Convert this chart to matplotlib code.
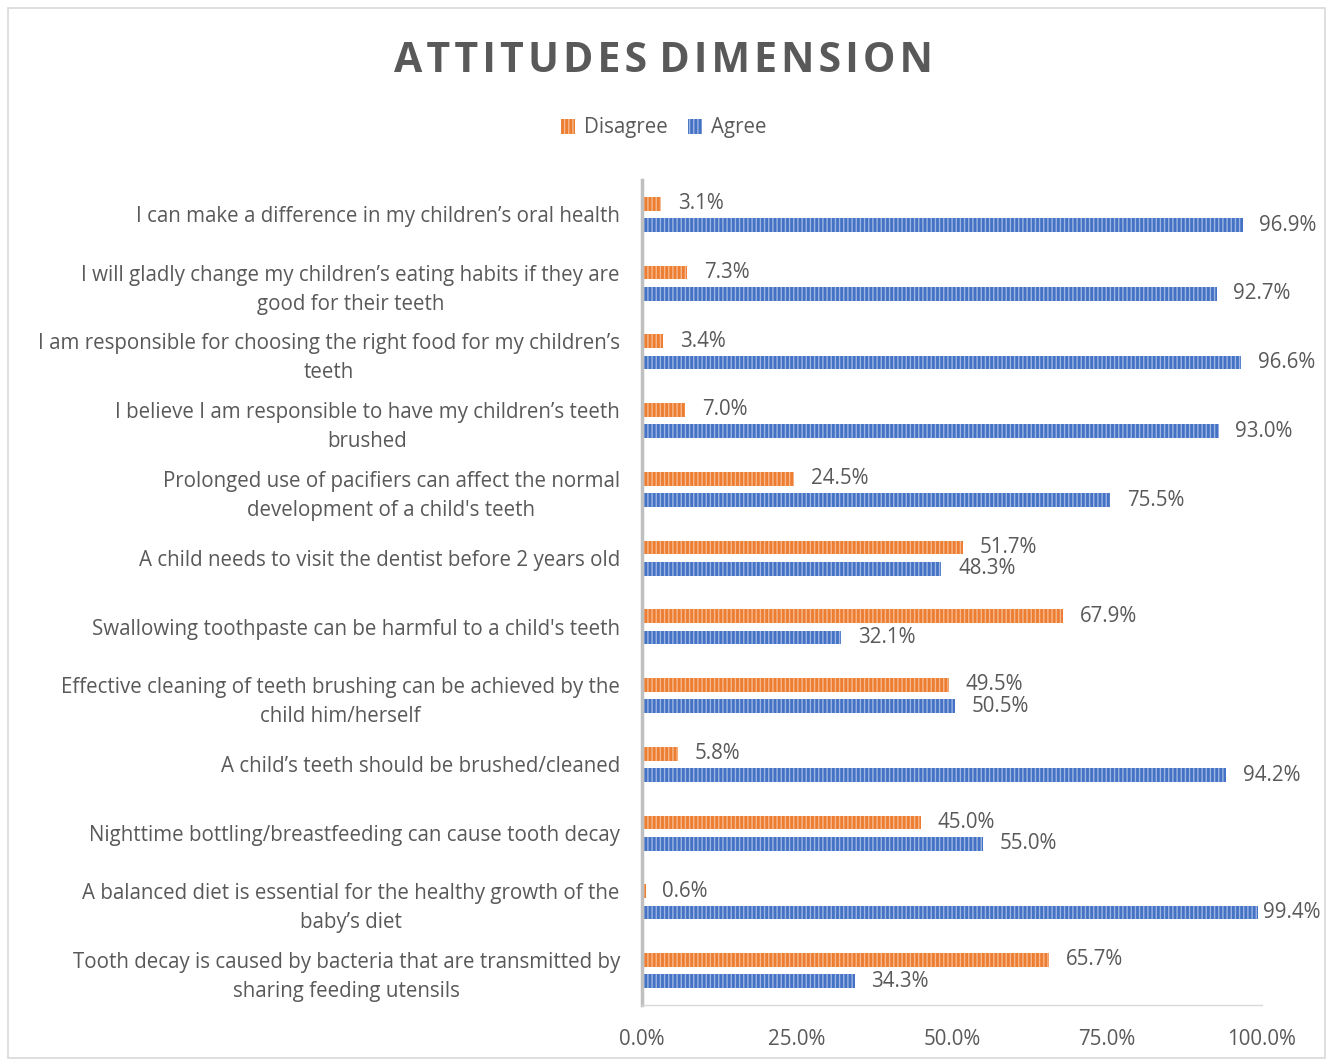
import matplotlib
matplotlib.use('Agg')
import matplotlib.pyplot as plt
import matplotlib.patches as patches
import numpy as np

plt.rcParams['font.family'] = ['Open Sans', 'DejaVu Sans']
plt.rcParams['hatch.linewidth'] = 1.0

# Datos del grafico
categorias = [
    "I can make a difference in my children\u2019s oral health",
    "I will gladly change my children\u2019s eating habits if they are\ngood for their teeth",
    "I am responsible for choosing the right food for my children\u2019s\nteeth",
    "I believe I am responsible to have my children\u2019s teeth\nbrushed",
    "Prolonged use of pacifiers can affect the normal\ndevelopment of a child's teeth",
    "A child needs to visit the dentist before 2 years old",
    "Swallowing toothpaste can be harmful to a child's teeth",
    "Effective cleaning of teeth brushing can be achieved by the\nchild him/herself",
    "A child\u2019s teeth should be brushed/cleaned",
    "Nighttime bottling/breastfeeding can cause tooth decay",
    "A balanced diet is essential for the healthy growth of the\nbaby\u2019s diet",
    "Tooth decay is caused by bacteria that are transmitted by\nsharing feeding utensils",
]
disagree = [3.1, 7.3, 3.4, 7.0, 24.5, 51.7, 67.9, 49.5, 5.8, 45.0, 0.6, 65.7]
agree = [96.9, 92.7, 96.6, 93.0, 75.5, 48.3, 32.1, 50.5, 94.2, 55.0, 99.4, 34.3]
ticks = [0, 25, 50, 75, 100]

gris = '#595959'
naranja, naranja_cl = '#ED7D31', '#F6B98F'
azul, azul_cl = '#4472C4', '#9DB5E3'
fs = 14.8

W, H = 1327, 1061
fig = plt.figure(figsize=(W / 100, H / 100), dpi=100)
fig.patches.append(patches.Rectangle((8 / W, 3 / H), (1317 / W), 1050 / H,
                                     transform=fig.transFigure, fill=False,
                                     edgecolor='#D9D9D9', linewidth=1.2))

ax = fig.add_axes([642 / W, (H - 1005) / H, 620 / W, 825 / H])

y = np.arange(len(categorias))
alto = 0.2
off = 0.155
b1 = ax.barh(y - off, disagree, height=alto, color=naranja, edgecolor=naranja_cl,
             linewidth=0, hatch='||||', label='Disagree')
b2 = ax.barh(y + off, agree, height=alto, color=azul, edgecolor=azul_cl,
             linewidth=0, hatch='||||', label='Agree')

etiquetas = []
for barras in (b1, b2):
    for rect in barras:
        v = rect.get_width()
        t = ax.annotate('%.1f%%' % v, (v, rect.get_y() + rect.get_height() / 2),
                        xytext=(12, 0), textcoords='offset points',
                        va='center', ha='left', fontsize=fs, color=gris)
        etiquetas.append(t)

ax.set_xlim(0, 100)
ax.set_ylim(len(categorias) - 0.5, -0.5)
ax.set_xticks(ticks)
ax.set_xticklabels(['%.1f%%' % t for t in ticks], fontsize=fs, color=gris)
ax.set_yticks(y)
ax.set_yticklabels(categorias, fontsize=fs, color=gris, linespacing=1.5)
for lab in ax.get_yticklabels():
    lab.set_multialignment('center')
ax.tick_params(axis='x', length=0, pad=17)
ax.tick_params(axis='y', length=0, pad=16)

for s in ('top', 'right'):
    ax.spines[s].set_visible(False)
ax.spines['left'].set_color('#BFBFBF')
ax.spines['left'].set_linewidth(2.5)
ax.spines['bottom'].set_color('#D9D9D9')
ax.spines['bottom'].set_linewidth(1)

fig.text(0.5, 1 - 62 / H, 'A T T I T U D E S   D I M E N S I O N'.replace(' ', '\u200a'),
         ha='center', va='center', fontsize=29.5, fontweight='bold', color=gris)

fig.legend(handles=[b1, b2], labels=['Disagree', 'Agree'], loc='center',
           bbox_to_anchor=(0.5, 1 - 128 / H), ncol=2, frameon=False,
           fontsize=fs, labelcolor=gris, handlelength=0.7, handleheight=0.7,
           handletextpad=0.4, columnspacing=1.0)

# Acerca las etiquetas que se salen del borde derecho
fig.canvas.draw()
r = fig.canvas.get_renderer()
for t in etiquetas:
    bb = t.get_window_extent(r)
    if bb.x1 > W - 6:
        dx = (bb.x1 - (W - 6)) * 72 / 100
        t.set_position((max(12 - dx, 2), 0))

fig.savefig('out.png', dpi=100)
